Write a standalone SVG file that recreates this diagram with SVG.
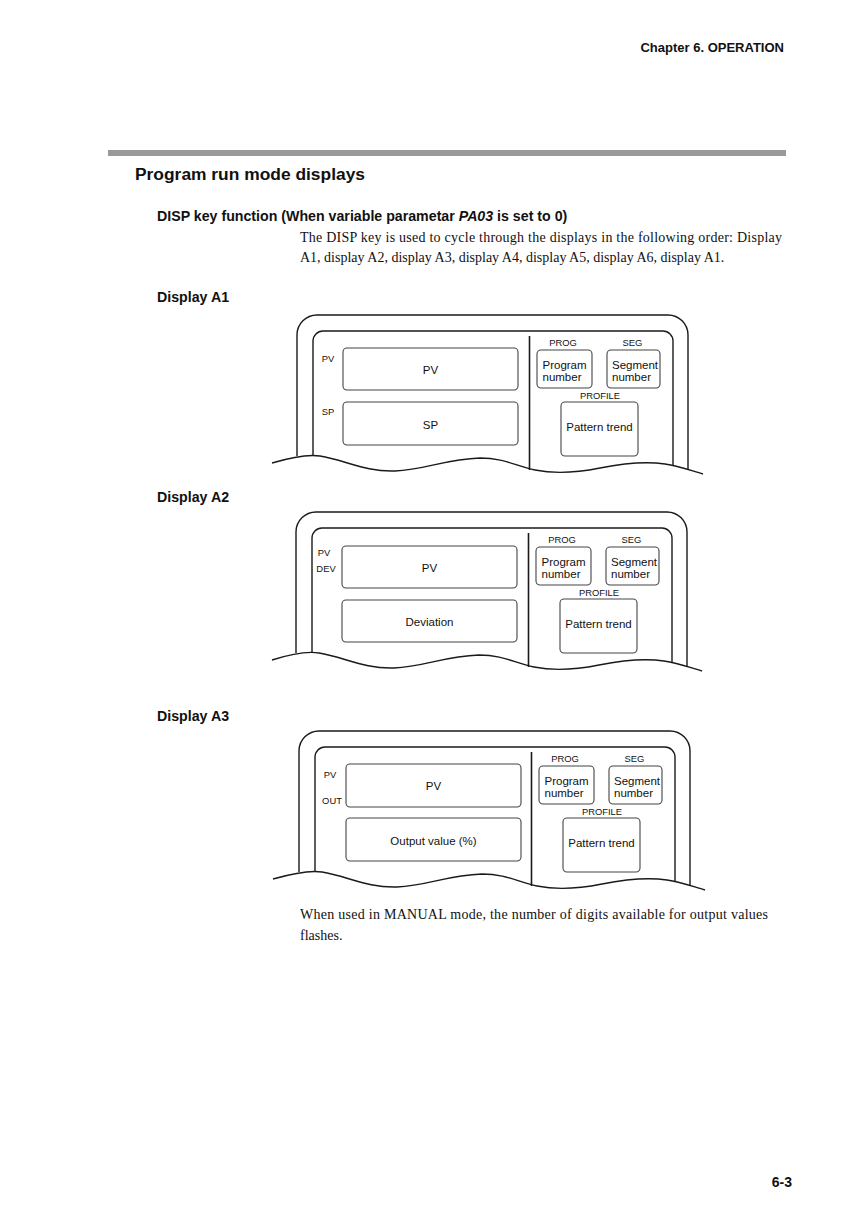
<svg xmlns="http://www.w3.org/2000/svg" width="867" height="1227" viewBox="0 0 867 1227">
<style>
.bg{fill:#fff}
.frame{fill:none;stroke:#1a1a1a;stroke-width:1.4}
.div{fill:none;stroke:#1a1a1a;stroke-width:1.6}
.box{fill:#fff;stroke:#444;stroke-width:1.1}
.sans{font-family:"Liberation Sans",Arial,Helvetica,sans-serif;fill:#111}
.serif{font-family:"Liberation Serif","Times New Roman",serif;fill:#111;font-size:14px}
.bold{font-weight:bold}
.lbl{font-size:9.4px}
.big{font-size:11.5px}
.mid{text-anchor:middle}
</style>
<rect class="bg" x="0" y="0" width="867" height="1227"/>

<g id="page-text">
  <text class="sans bold" x="784" y="52" font-size="13" text-anchor="end">Chapter 6. OPERATION</text>
  <rect x="108" y="150" width="678" height="6" fill="#9a9a9a"/>
  <text class="sans bold" x="135" y="180" font-size="17.4">Program run mode displays</text>
  <text class="sans bold" x="157" y="221" font-size="14.2">DISP key function (When variable parametar <tspan font-style="italic">PA03</tspan> is set to 0)</text>
  <text class="serif" x="300" y="242" textLength="482" lengthAdjust="spacing">The DISP key is used to cycle through the displays in the following order: Display</text>
  <text class="serif" x="300" y="262">A1, display A2, display A3, display A4, display A5, display A6, display A1.</text>
  <text class="sans bold" x="157" y="302" font-size="14.2">Display A1</text>
  <text class="sans bold" x="157" y="501.5" font-size="14.2">Display A2</text>
  <text class="sans bold" x="157" y="721" font-size="14.2">Display A3</text>
  <text class="serif" x="300" y="919" textLength="468" lengthAdjust="spacing">When used in MANUAL mode, the number of digits available for output values</text>
  <text class="serif" x="300" y="940">flashes.</text>
  <text class="sans bold" x="792" y="1187" font-size="14" text-anchor="end">6-3</text>
</g>

<g id="connectors"></g>

<g id="display-a1">
  <path class="frame" d="M297,456 V335 A20,20 0 0 1 317,315 H668 A20,20 0 0 1 688,335 V470"/>
  <path class="frame" d="M313,455 V341 A10,10 0 0 1 323,331 H663 A10,10 0 0 1 673,341 V465"/>
  <path class="div" d="M529.5,336 V470"/>
  <path class="frame" d="M272,463 C292,457 308,454 320,456 C345,460 365,472 395,471 C425,470 445,459 480,458 C505,458 515,466 535,470 C555,474 575,473 600,468 C620,464 645,461 665,464 C680,466 692,471 703,474"/>
  <g id="a1-pv"><rect class="box" x="343" y="348" width="175" height="42" rx="4"/><text class="sans big mid" x="430.5" y="373.5">PV</text></g>
  <g id="a1-sp"><rect class="box" x="343" y="402" width="175" height="43" rx="4"/><text class="sans big mid" x="430.5" y="428.5">SP</text></g>
  <text class="sans lbl mid" x="328" y="362">PV</text>
  <text class="sans lbl mid" x="328" y="415">SP</text>
  <g id="a1-prog"><text class="sans lbl mid" x="563" y="346">PROG</text><rect class="box" x="537" y="350" width="55" height="38" rx="4"/><text class="sans big" x="542.5" y="369">Program</text><text class="sans big" x="542.5" y="381">number</text></g>
  <g id="a1-seg"><text class="sans lbl mid" x="632.5" y="346">SEG</text><rect class="box" x="607" y="350" width="53" height="38" rx="4"/><text class="sans big" x="612" y="369">Segment</text><text class="sans big" x="612" y="381">number</text></g>
  <g id="a1-profile"><text class="sans lbl mid" x="600" y="399">PROFILE</text><rect class="box" x="561" y="402" width="77" height="54" rx="4"/><text class="sans big mid" x="599.5" y="431">Pattern trend</text></g>
</g>

<g id="display-a2" transform="translate(-1,197)">
  <path class="frame" d="M297,456 V335 A20,20 0 0 1 317,315 H668 A20,20 0 0 1 688,335 V470"/>
  <path class="frame" d="M313,455 V341 A10,10 0 0 1 323,331 H663 A10,10 0 0 1 673,341 V465"/>
  <path class="div" d="M529.5,336 V470"/>
  <path class="frame" d="M273,463 C292,457 308,454 320,456 C345,460 365,472 395,471 C425,470 445,459 480,458 C505,458 515,466 535,470 C555,474 575,473 600,468 C620,464 645,461 665,464 C680,466 692,471 703,474"/>
  <g id="a2-pv"><rect class="box" x="343" y="349" width="175" height="42" rx="4"/><text class="sans big mid" x="430.5" y="374.5">PV</text></g>
  <g id="a2-dev"><rect class="box" x="343" y="403" width="175" height="42" rx="4"/><text class="sans big mid" x="430.5" y="428.5">Deviation</text></g>
  <text class="sans lbl mid" x="325" y="358.5">PV</text>
  <text class="sans lbl mid" x="327" y="375">DEV</text>
  <g id="a2-prog"><text class="sans lbl mid" x="563" y="346">PROG</text><rect class="box" x="537" y="350" width="55" height="38" rx="4"/><text class="sans big" x="542.5" y="369">Program</text><text class="sans big" x="542.5" y="381">number</text></g>
  <g id="a2-seg"><text class="sans lbl mid" x="632.5" y="346">SEG</text><rect class="box" x="607" y="350" width="53" height="38" rx="4"/><text class="sans big" x="612" y="369">Segment</text><text class="sans big" x="612" y="381">number</text></g>
  <g id="a2-profile"><text class="sans lbl mid" x="600" y="399">PROFILE</text><rect class="box" x="561" y="402" width="77" height="54" rx="4"/><text class="sans big mid" x="599.5" y="431">Pattern trend</text></g>
</g>

<g id="display-a3" transform="translate(2,416)">
  <path class="frame" d="M297,456 V335 A20,20 0 0 1 317,315 H668 A20,20 0 0 1 688,335 V470"/>
  <path class="frame" d="M313,455 V341 A10,10 0 0 1 323,331 H663 A10,10 0 0 1 673,341 V465"/>
  <path class="div" d="M529.5,336 V470"/>
  <path class="frame" d="M271,463 C292,457 308,454 320,456 C345,460 365,472 395,471 C425,470 445,459 480,458 C505,458 515,466 535,470 C555,474 575,473 600,468 C620,464 645,461 665,464 C680,466 692,471 703,474"/>
  <g id="a3-pv"><rect class="box" x="344" y="348" width="175" height="43" rx="4"/><text class="sans big mid" x="431.5" y="374">PV</text></g>
  <g id="a3-out"><rect class="box" x="344" y="402" width="175" height="43" rx="4"/><text class="sans big mid" x="431.5" y="428.5">Output value (%)</text></g>
  <text class="sans lbl mid" x="328" y="362">PV</text>
  <text class="sans lbl mid" x="330" y="388">OUT</text>
  <g id="a3-prog"><text class="sans lbl mid" x="563" y="346">PROG</text><rect class="box" x="537" y="350" width="55" height="38" rx="4"/><text class="sans big" x="542.5" y="369">Program</text><text class="sans big" x="542.5" y="381">number</text></g>
  <g id="a3-seg"><text class="sans lbl mid" x="632.5" y="346">SEG</text><rect class="box" x="607" y="350" width="53" height="38" rx="4"/><text class="sans big" x="612" y="369">Segment</text><text class="sans big" x="612" y="381">number</text></g>
  <g id="a3-profile"><text class="sans lbl mid" x="600" y="399">PROFILE</text><rect class="box" x="561" y="402" width="77" height="54" rx="4"/><text class="sans big mid" x="599.5" y="431">Pattern trend</text></g>
</g>
</svg>
